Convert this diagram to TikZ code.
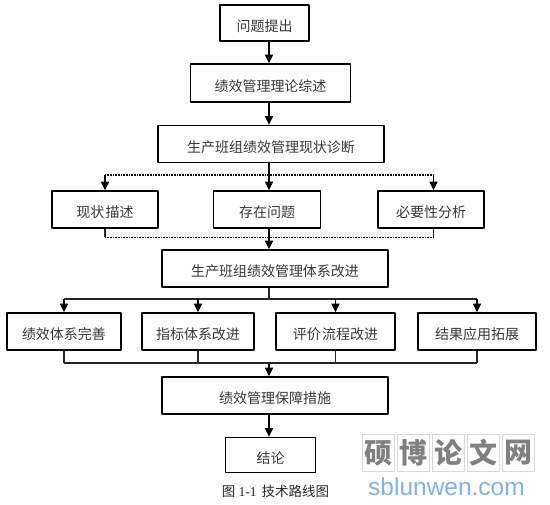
\documentclass[tikz,border=0pt]{standalone}
\usepackage{fontspec}
\setmainfont{Liberation Serif}
\newfontfamily\cjk{Noto Sans CJK SC}
\newfontfamily\wmfont{Liberation Sans}
\usetikzlibrary{arrows.meta}
\definecolor{inkgray}{gray}{0.22}
\tikzset{
  x=1pt,y=-1pt,
  flowbox/.style={draw=black,line width=1.5pt,line join=round,rectangle,inner sep=0pt,
    font=\cjk\fontsize{14}{15}\selectfont,text=inkgray,text height=17pt,text depth=0pt,align=center},
  arrowline/.style={draw=black,line width=1.2pt,-{Triangle[length=8.5pt,width=8pt]}},
  plainline/.style={draw=black!85,line width=1.1pt},
  dotline/.style={draw=black,line width=1.5pt,dash pattern=on 1pt off 0.6pt},
  wmcell/.style={draw=black!15,line width=0.6pt,rectangle,minimum width=32pt,minimum height=37pt,inner sep=0pt,
    font=\cjk\bfseries\fontsize{28}{29}\selectfont,text=black!50},
}
\begin{document}
\begin{tikzpicture}
\useasboundingbox (0,0) rectangle (550,505);
% boxes
\node[flowbox,minimum width=89pt,minimum height=36pt] (start) at (264.5,23) {问题提出};
\node[flowbox,minimum width=160pt,minimum height=38pt] (theory) at (270.5,83) {绩效管理理论综述};
\node[flowbox,minimum width=226pt,minimum height=37pt] (diag) at (271,144) {生产班组绩效管理现状诊断};
\node[flowbox,minimum width=106pt,minimum height=37pt] (cur) at (105,209.5) {现状\hspace{1.5pt}描述};
\node[flowbox,minimum width=107pt,minimum height=37pt] (prob) at (267,209.5) {存在问题};
\node[flowbox,minimum width=106pt,minimum height=37pt] (need) at (431,209.5) {必要性分析};
\node[flowbox,minimum width=226pt,minimum height=37pt] (impr) at (275,268.5) {生产班组绩效管理体系改进};
\node[flowbox,minimum width=114pt,minimum height=37pt] (sys) at (64,331.5) {绩效体系完善};
\node[flowbox,minimum width=112pt,minimum height=37pt] (idx) at (198,331.5) {指标体系改进};
\node[flowbox,minimum width=119pt,minimum height=37pt] (eval) at (335.5,331.5) {评价\hspace{1.5pt}流程改进};
\node[flowbox,minimum width=118pt,minimum height=37pt] (app) at (477,331.5) {结果应用拓展};
\node[flowbox,minimum width=226pt,minimum height=37pt] (safe) at (275,395.5) {绩效管理保障措施};
\node[flowbox,minimum width=90pt,minimum height=35pt] (end) at (270.5,455) {结论};
\node[font=\fontsize{13.5}{15}\selectfont,text=black!85,inner sep=0pt] (cap) at (275.5,491) {{\cjk 图} 1-1\hspace{5pt}{\cjk 技术路线图}};
% junction coordinates: main axis and the rails
\coordinate (upbus) at (269,175);
\coordinate (midbus) at (269,237.5);
\coordinate (lowtop) at (269,299);
\coordinate (lowbot) at (269,363);
\coordinate (needx) at (433.5,175);
% chain
\draw[arrowline] (start.south -| upbus) -- (theory.north -| upbus);
\draw[arrowline] (theory.south -| upbus) -- (diag.north -| upbus);
\draw[arrowline] (diag.south -| upbus) -- (prob.north -| upbus);
\draw[arrowline] (prob.south -| upbus) -- (impr.north -| upbus);
\draw[arrowline] (lowbot) -- (safe.north -| upbus);
\draw[arrowline] (safe.south -| upbus) -- (end.north -| upbus);
% upper branches
\draw[dotline] (cur.north |- upbus) -- (needx);
\draw[arrowline] (cur.north |- upbus) -- (cur.north);
\draw[arrowline] (needx) -- (need.north -| needx);
% upper merge
\draw[dotline] (cur.south |- midbus) -- (needx |- midbus);
\draw[plainline] (cur.south) -- (cur.south |- midbus);
\draw[plainline] (need.south -| needx) -- (needx |- midbus);
% lower fan-out
\draw[plainline] (impr.south -| upbus) -- (lowtop);
\draw[plainline] (sys.north |- lowtop) -- (app.north |- lowtop);
\draw[arrowline] (sys.north |- lowtop) -- (sys.north);
\draw[arrowline] (idx.north |- lowtop) -- (idx.north);
\draw[arrowline] (eval.north |- lowtop) -- (eval.north);
\draw[arrowline] (app.north |- lowtop) -- (app.north);
% lower merge
\draw[plainline] (sys.south |- lowbot) -- (app.south |- lowbot);
\draw[plainline] (sys.south) -- (sys.south |- lowbot);
\draw[plainline] (idx.south) -- (idx.south |- lowbot);
\draw[plainline] (eval.south) -- (eval.south |- lowbot);
\draw[plainline] (app.south) -- (app.south |- lowbot);
% watermark
\node[wmcell] (w1) at (378,453) {硕};
\node[wmcell] (w2) at (413,453) {博};
\node[wmcell] (w3) at (448,453) {论};
\node[wmcell] (w4) at (483,453) {文};
\node[wmcell] (w5) at (518,453) {网};
\node[inner sep=0pt,font=\wmfont\fontsize{24.5}{26}\selectfont,text={rgb,255:red,130;green,178;blue,232}] (wmurl) at (446.5,487) {sblunwen.com};
\end{tikzpicture}
\end{document}
